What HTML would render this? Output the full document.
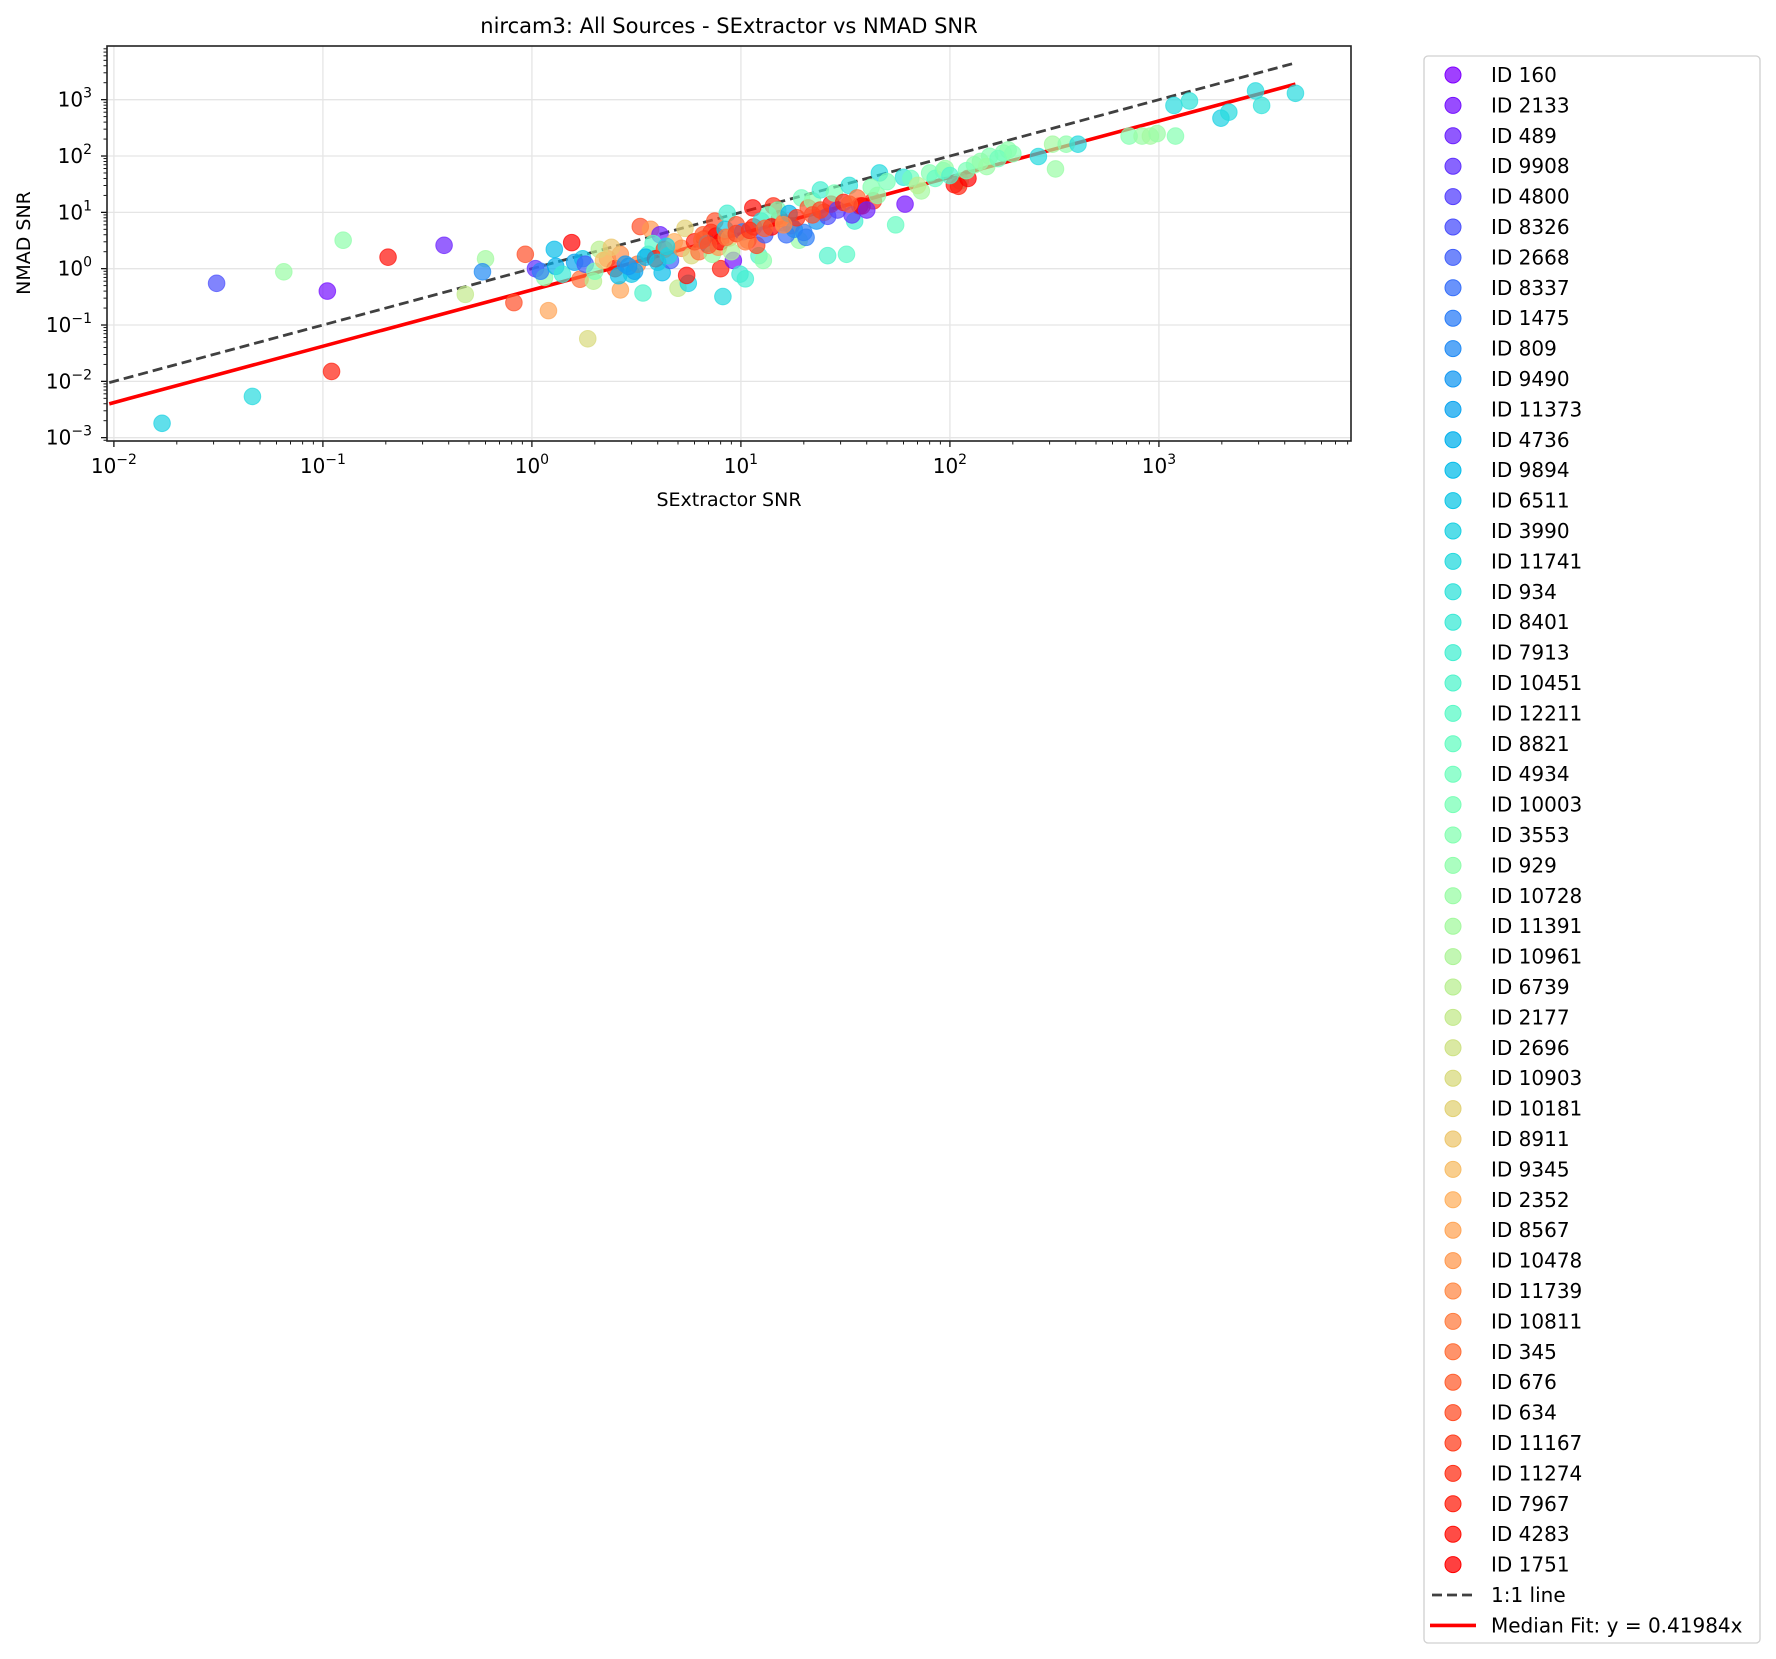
<!DOCTYPE html>
<html><head><meta charset="utf-8"><style>
html,body{margin:0;padding:0;background:#fff;}
svg{display:block;font-family:"DejaVu Sans","Liberation Sans",sans-serif;}
</style></head><body>
<svg id="chart" width="1776" height="1659" viewBox="0 0 1776 1659" xmlns="http://www.w3.org/2000/svg">
<rect width="1776" height="1659" fill="#fff"/>
<text x="729" y="33" font-size="21" text-anchor="middle">nircam3: All Sources - SExtractor vs NMAD SNR</text>
<text x="729" y="506" font-size="19" text-anchor="middle">SExtractor SNR</text>
<text x="0" y="0" font-size="19" text-anchor="middle" transform="translate(30,243) rotate(-90)">NMAD SNR</text>
<g id="grid"></g><g id="lines"></g><g id="pts"></g><g id="axes"></g><g id="legend"></g>
</svg>
<script>
const ids = [160,2133,489,9908,4800,8326,2668,8337,1475,809,9490,11373,4736,9894,6511,3990,11741,934,8401,7913,10451,12211,8821,4934,10003,3553,929,10728,11391,10961,6739,2177,2696,10903,10181,8911,9345,2352,8567,10478,11739,10811,345,676,634,11167,11274,7967,4283,1751];
const xVals = [0.017,0.046,0.031,0.065,0.105,0.11,0.125,0.205,0.38,0.48,0.6,0.58,0.82,0.93,1.04,1.2,1.85,1.28,1.55,1.15,1.75,1.7,1.97,2.3,2.5,2.65,2.65,3.4,3.3,3.7,4.2,4.1,4.6,5.0,5.4,5.6,5.5,6.7,7.2,7.5,8.2,8.0,8.6,9.2,9.9,10.5,12.2,12.8,11.4,14.3,15.3,17.4,19,20,26,32,35,37,43,46,55,61,60,73,93,112,105,110,122,131,155,180,190,265,320,310,360,410,720,830,910,980,1200,1180,1400,1980,2160,2900,3100,4500,
1.1,1.3,1.4,1.6,1.8,2.0,2.1,2.2,2.4,2.6,2.8,3.0,3.2,3.6,3.8,3.9,4.3,4.5,4.8,5.2,5.8,6.0,6.3,6.6,6.9,7.3,7.6,7.8,8.0,8.4,8.8,9.0,9.5,10.2,10.8,11.5,11.9,12.5,13,13.5,14,15,16,16.5,17,18,18.5,19.5,20.5,21,22,23,24,25,26,27,28,29,31,33,34,36,38,40,42,45,50,65,70,80,85,95,100,120,140,150,170,200,3.5,4.0,4.4,3.1,2.9,
6.5,7.0,8.5,9.5,10.5,11.0,13.0,16.0,22,24,33];
const yVals = [0.0018,0.0054,0.55,0.88,0.4,0.015,3.2,1.6,2.6,0.35,1.5,0.88,0.25,1.8,1.0,0.18,0.057,2.2,2.9,0.7,1.5,0.65,0.6,1.5,1.0,0.42,1.8,0.37,5.6,5.0,0.85,4.0,1.4,0.45,5.2,0.55,0.76,3.4,4.4,7.0,0.32,1.0,9.6,1.4,0.8,0.66,1.7,1.4,12,13,7.7,5.8,3.2,4.4,1.7,1.8,7,13,16,50,6,14,42,24,55,36,31,29,40,70,99,113,128,98,59,162,162,162,226,226,226,250,226,790,950,470,600,1430,790,1300,
0.9,1.1,0.8,1.3,1.2,0.9,2.2,1.4,2.4,0.75,1.2,0.8,1.2,1.8,2.8,1.5,2.2,1.7,3.0,2.3,1.7,3.0,2.0,4.0,2.8,1.8,3.8,2.4,3.0,5.0,3.5,2.0,6.0,4.5,3.2,5.5,2.6,7.0,4.0,9.0,5.5,11,6.5,4.0,9.5,5.0,8.0,18,3.6,12,16,7,25,10,8.5,14,22,11,15,30,9,18,13,11,28,20,35,40,30,50,40,60,45,55,80,65,90,110,1.6,1.3,2.5,0.9,1.1,
3.2,2.6,3.6,4.2,3.0,4.8,5.2,6.0,9,11,14];
const colorIdx = [15,16,5,27,1,47,26,48,2,31,28,9,44,44,3,38,33,13,49,26,14,42,30,39,47,38,40,20,44,39,13,2,6,31,34,15,48,46,49,44,16,47,19,1,18,19,20,26,48,46,47,43,27,8,20,21,19,49,46,16,22,1,17,28,23,27,48,47,49,26,25,25,26,16,27,28,26,16,25,27,28,27,25,16,17,15,16,16,17,16,
8,12,18,11,6,24,30,36,35,13,10,14,41,17,21,49,45,16,37,40,33,47,42,43,11,27,48,39,49,14,36,29,44,8,40,47,45,16,6,22,49,24,41,7,12,9,46,23,8,44,26,10,19,42,5,48,24,4,47,17,3,42,49,2,25,26,24,23,30,25,22,27,20,24,26,27,23,25,12,14,15,11,10,
43,44,42,45,41,46,43,40,44,45,43];
const xTicks = [-2,-1,0,1,2,3];
const yTicks = [-3,-2,-1,0,1,2,3];
const fitSlope = 0.41984;
const lineRange = [0.0095, 4500];

const L=107,R=1351,T=46,B=441;
const xMin=-2.033,xMax=3.919,yMin=-3.059,yMax=3.953;
const sx=v=>L+(Math.log10(v)-xMin)/(xMax-xMin)*(R-L);
const sy=v=>B-(Math.log10(v)-yMin)/(yMax-yMin)*(B-T);
const NS='http://www.w3.org/2000/svg';
function mk(tag,attrs,parent){const e=document.createElementNS(NS,tag);for(const k in attrs)e.setAttribute(k,attrs[k]);parent.appendChild(e);return e;}
function rainbow(t){const r=Math.min(1,Math.abs(2*t-0.5)),g=Math.sin(Math.PI*t),b=Math.cos(Math.PI*t/2);
 const h=v=>Math.round(Math.max(0,Math.min(1,v))*255);return `rgb(${h(r)},${h(g)},${h(b)})`;}
const colorOf=i=>rainbow(i/(ids.length-1));
const grid=document.getElementById('grid'),axes=document.getElementById('axes'),lines=document.getElementById('lines'),pts=document.getElementById('pts'),leg=document.getElementById('legend');
const sup=e=>(e<0?'\u2212'+(-e):''+e);
xTicks.forEach(e=>{const x=sx(Math.pow(10,e));
 const g=mk('line',{x1:x,x2:x,y1:T,y2:B,stroke:'#e5e5e5','stroke-width':1.3},grid);
 
 
 mk('line',{x1:x,x2:x,y1:B,y2:B+6,stroke:'#000','stroke-width':1.2},axes);
 const t=mk('text',{x:x,y:473,'font-size':20,'text-anchor':'middle'},axes);
 
 
 t.innerHTML='10<tspan dy="-9" font-size="14">'+sup(e)+'</tspan>';});
for(let e=-3;e<=3;e++)for(let m=2;m<=9;m++){const v=m*Math.pow(10,e),x=sx(v);if(x>L&&x<R)mk('line',{x1:x,x2:x,y1:B,y2:B+3.5,stroke:'#000','stroke-width':0.9},axes);}
yTicks.forEach(e=>{const y=sy(Math.pow(10,e));
 const g=mk('line',{x1:L,x2:R,y1:y,y2:y,stroke:'#e5e5e5','stroke-width':1.3},grid);
 
 
 mk('line',{x1:L-6,x2:L,y1:y,y2:y,stroke:'#000','stroke-width':1.2},axes);
 const t=mk('text',{x:92,y:y+7,'font-size':20,'text-anchor':'end'},axes);
 
 
 t.innerHTML='10<tspan dy="-9" font-size="14">'+sup(e)+'</tspan>';});
for(let e=-4;e<=3;e++)for(let m=2;m<=9;m++){const v=m*Math.pow(10,e),y=sy(v);if(y>T&&y<B)mk('line',{x1:L-3.5,x2:L,y1:y,y2:y,stroke:'#000','stroke-width':0.9},axes);}
const frame=mk('rect',{x:L,y:T,width:R-L,height:B-T,fill:'none',stroke:'#222','stroke-width':1.6},axes);


for(let i=0;i<xVals.length;i++){const c=colorOf(colorIdx[i]);
 const p=mk('circle',{cx:sx(xVals[i]),cy:sy(yVals[i]),r:8.3,fill:c,stroke:c,'stroke-width':1,'fill-opacity':0.7,'stroke-opacity':0.7},pts);
 
 }
const l1=mk('line',{x1:sx(lineRange[0]),y1:sy(lineRange[0]),x2:sx(lineRange[1]),y2:sy(lineRange[1]),stroke:'#404040','stroke-width':2.8,'stroke-dasharray':'10,5'},lines);


const l2=mk('line',{x1:sx(lineRange[0]),y1:sy(lineRange[0]*fitSlope),x2:sx(lineRange[1]),y2:sy(lineRange[1]*fitSlope),stroke:'#ff0000','stroke-width':3.6},lines);


const box=mk('rect',{x:1424,y:56,width:336,height:1587,rx:4,fill:'#fff',stroke:'#d0d0d0','stroke-width':1.3},leg);


ids.forEach((id,i)=>{const y=75+i*30.4,c=colorOf(i);
 const g=mk('g',{},leg);
 
 
 mk('circle',{cx:1453,cy:y,r:8,fill:c,stroke:c,'fill-opacity':0.75},g);
 const t=mk('text',{x:1491,y:y+7,'font-size':20},g);t.textContent='ID '+id;});
const yA=75+50*30.4,yB=yA+30.4;
const ga=mk('g',{},leg);


mk('line',{x1:1432,x2:1475,y1:yA,y2:yA,stroke:'#404040','stroke-width':2.8,'stroke-dasharray':'10,5'},ga);
mk('text',{x:1491,y:yA+7,'font-size':20},ga).textContent='1:1 line';
const gb=mk('g',{},leg);


mk('line',{x1:1430,x2:1476,y1:yB,y2:yB,stroke:'#ff0000','stroke-width':3.6},gb);
mk('text',{x:1491,y:yB+7,'font-size':20},gb).textContent='Median Fit: y = 0.41984x';
</script>
</body></html>
